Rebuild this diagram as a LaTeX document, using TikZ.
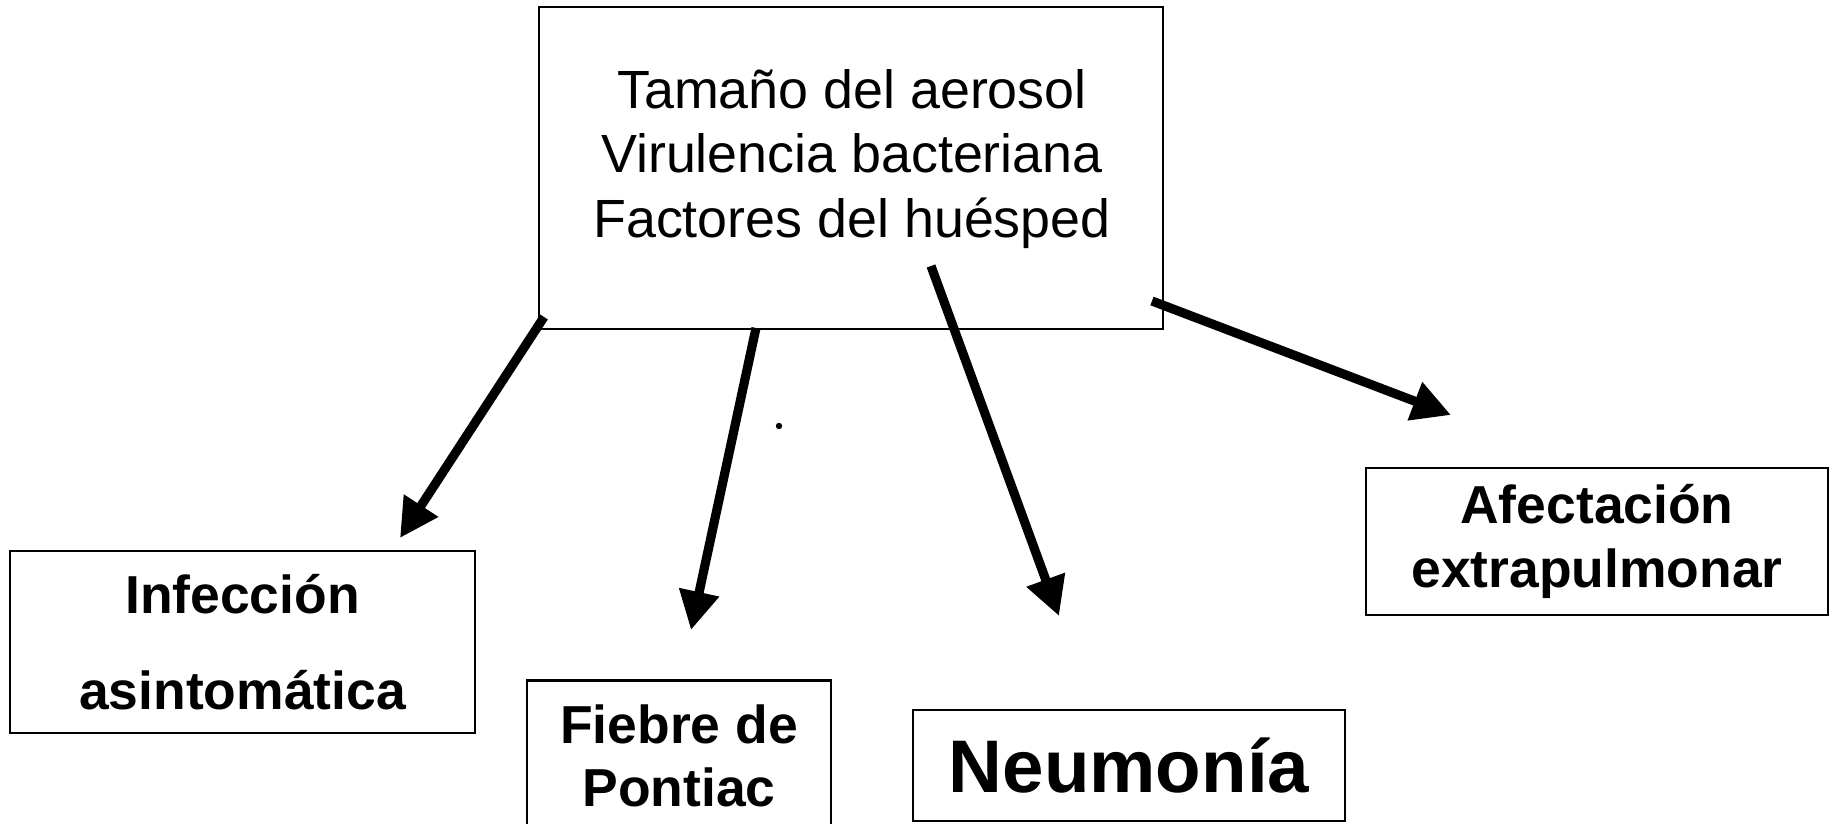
\documentclass[tikz,border=0pt]{standalone}
\usepackage{fontspec}
\setmainfont{Liberation Sans}
\usetikzlibrary{arrows.meta}

\tikzset{
  caja/.style={draw, line width=0.6pt, inner sep=0pt, align=center},
  flecha/.style={line width=2.6pt, -{Triangle[length=11pt, width=11pt]}},
}

\begin{document}
\begin{tikzpicture}[x=0.01cm, y=-0.01cm]
\useasboundingbox (0,0) rectangle (1829,824);

\node[caja, minimum width=6.24cm, minimum height=3.22cm] (factores) at (851,168) {};
\node[align=center, font=\fontsize{15.3}{18.3}\selectfont] (lista) at (852,159)
  {Tamaño del aerosol\\Virulencia bacteriana\\Factores del huésped};

\node[caja, minimum width=4.65cm, minimum height=1.82cm,
  font=\bfseries\fontsize{15.2}{27.3}\selectfont] (asint) at (242.5,642)
  {Infección\\asintomática};
\node[caja, minimum width=3.04cm, minimum height=1.51cm,
  font=\bfseries\fontsize{15.2}{18}\selectfont] (pontiac) at (679,756)
  {Fiebre de\\Pontiac};
\node[caja, minimum width=4.32cm, minimum height=1.11cm,
  font=\bfseries\fontsize{21.2}{25}\selectfont] (neumonia) at (1129,765.5)
  {Neumonía};
\node[caja, minimum width=4.62cm, minimum height=1.47cm,
  font=\bfseries\fontsize{15.2}{18.3}\selectfont] (extra) at (1597,541.5)
  {Afectación\\extrapulmonar};

% arranque y punta de cada flecha
\coordinate (s1) at (544,317);  \coordinate (t1) at (400,538);
\coordinate (s2) at (756,328);  \coordinate (t2) at (691,630);
\coordinate (s3) at (931,266);  \coordinate (t3) at (1059,616);
\coordinate (s4) at (1152,301); \coordinate (t4) at (1451,415);

\draw[flecha] (s1) -- (t1);
\draw[flecha] (s2) -- (t2);
\draw[flecha] (s3) -- (t3);
\draw[flecha] (s4) -- (t4);

\fill (779,426) circle (3.2);
\end{tikzpicture}
\end{document}
